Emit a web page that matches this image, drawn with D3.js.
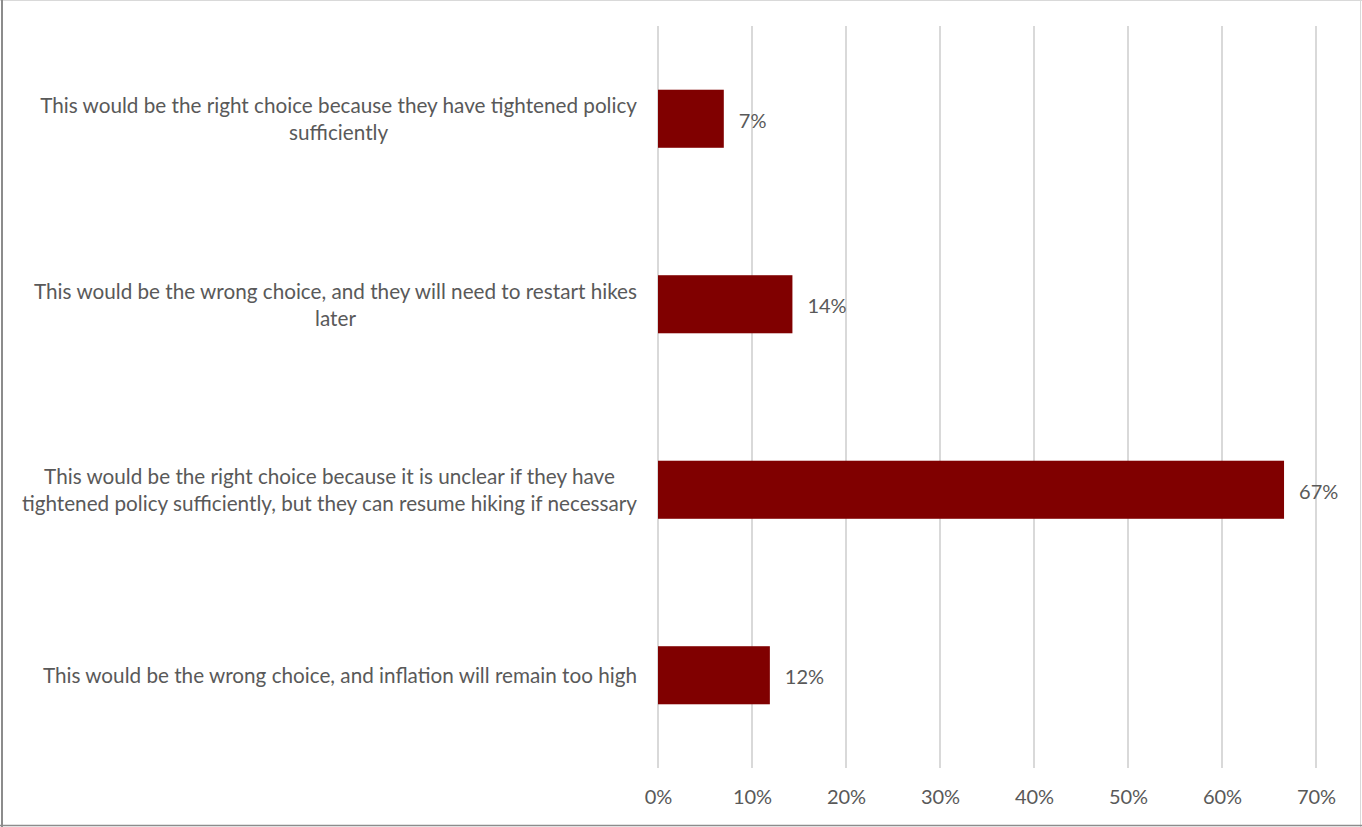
<!DOCTYPE html>
<html>
<head>
<meta charset="utf-8">
<script src="https://cdn.jsdelivr.net/npm/d3@7"></script>
<style>
  html, body { margin: 0; padding: 0; background: #ffffff; }
  svg { display: block; }
  text { font-family: Lato, "Open Sans", sans-serif; fill: #595959; }
</style>
</head>
<body>
<svg id="chart" width="1362" height="827"></svg>
<script>
// Survey answer options (wrapped into display lines)
const categories = [
  ["This would be the right choice because they have tightened policy", "sufficiently"],
  ["This would be the wrong choice, and they will need to restart hikes", "later"],
  ["This would be the right choice because it is unclear if they have", "tightened policy sufficiently, but they can resume hiking if necessary"],
  ["This would be the wrong choice, and inflation will remain too high"]
];
// Share of respondents
const shares = [0.070, 0.143, 0.666, 0.119];
// Axis ticks
const ticks = [0, 0.1, 0.2, 0.3, 0.4, 0.5, 0.6, 0.7];

const svg = d3.select("#chart");
const W = 1362, H = 827;
const numSize = 20;
const catSize = 20.7;

const x = d3.scaleLinear().domain([0, 0.7]).range([658, 1316]);
const y = d3.scaleBand()
  .domain(d3.range(categories.length))
  .range([26, 768])
  .paddingInner(0.687)
  .paddingOuter(0.3435);

const pct = d3.format(".0%");

// Frame
svg.append("line").attr("x1", 0).attr("x2", W).attr("y1", 0.5).attr("y2", 0.5).attr("stroke", "#d9d9d9");
svg.append("line").attr("x1", W - 1.5).attr("x2", W - 1.5).attr("y1", 0).attr("y2", H).attr("stroke", "#d9d9d9");
svg.append("line").attr("x1", 2).attr("x2", 2).attr("y1", 0).attr("y2", H).attr("stroke", "#8c8c8c").attr("stroke-width", 2);
svg.append("line").attr("x1", 0).attr("x2", W).attr("y1", H - 1.5).attr("y2", H - 1.5).attr("stroke", "#8c8c8c").attr("stroke-width", 1.5);

// Vertical gridlines
svg.append("g").selectAll("line").data(ticks).join("line")
  .attr("x1", d => x(d)).attr("x2", d => x(d))
  .attr("y1", 26).attr("y2", 768)
  .attr("stroke", "#d9d9d9").attr("stroke-width", 2);

// Bottom axis labels
const xAxis = d3.axisBottom(x).tickValues(ticks).tickFormat(pct).tickSize(0).tickPadding(0);
const gx = svg.append("g").attr("transform", "translate(0,790)").call(xAxis);
gx.select(".domain").remove();
gx.selectAll("text")
  .attr("font-family", "Lato, 'Open Sans', sans-serif")
  .attr("font-size", numSize)
  .style("fill", "#595959");

// Bars
svg.append("g").selectAll("rect").data(shares).join("rect")
  .attr("x", x(0))
  .attr("y", (d, i) => y(i))
  .attr("width", d => x(d) - x(0))
  .attr("height", y.bandwidth())
  .attr("fill", "#800000");

// Value labels
svg.append("g").selectAll("text").data(shares).join("text")
  .attr("x", d => x(d) + 15)
  .attr("y", (d, i) => y(i) + y.bandwidth() / 2)
  .attr("dy", "0.45em")
  .attr("font-size", numSize)
  .text(d => pct(d));

// Category labels: lines centred on each other, block right-aligned to the axis
const lineH = 27;
const rightEdge = 637;
const cat = svg.append("g").selectAll("g").data(categories).join("g");
cat.each(function(lines, i) {
  const g = d3.select(this);
  const cy = y(i) + y.bandwidth() / 2;
  const t = g.selectAll("text").data(lines).join("text")
    .attr("font-size", catSize)
    .attr("text-anchor", "middle")
    .attr("dy", "0.38em")
    .attr("y", (d, k) => cy + (k - (lines.length - 1) / 2) * lineH)
    .text(d => d);
  let maxW = 0;
  t.each(function() { maxW = Math.max(maxW, this.getComputedTextLength()); });
  t.attr("x", rightEdge - maxW / 2);
});
</script>
</body>
</html>
